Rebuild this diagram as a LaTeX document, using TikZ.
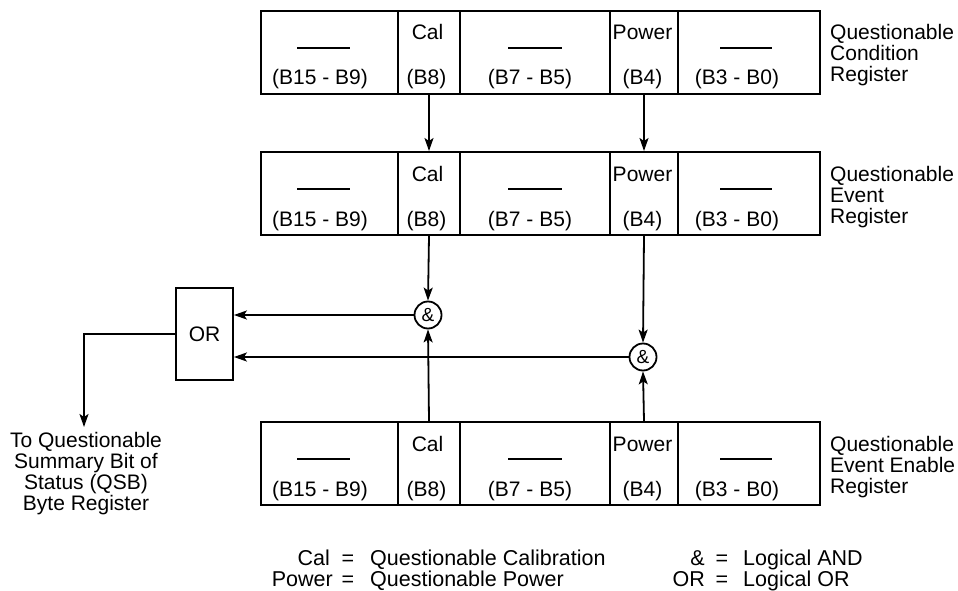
\documentclass[tikz,border=0pt]{standalone}
\usepackage{fontspec}
\setmainfont{Liberation Sans}
\usetikzlibrary{arrows.meta}
\tikzset{
  cell/.style={draw, line width=2pt, minimum height=83pt, inner sep=0pt, anchor=north west},
  txt/.style={font=\fontsize{21}{21}\selectfont, inner sep=0pt},
  lbl/.style={txt, align=left, anchor=base west},
  bar/.style={line width=1.7pt},
  flow/.style={line width=1.8pt, -{Stealth[length=13pt,width=9pt,inset=3pt]}},
  gate/.style={draw, circle, line width=1.8pt, minimum size=27pt, inner sep=0pt, font=\fontsize{19}{19}\selectfont},
  orbox/.style={draw, line width=1.8pt, minimum width=57pt, minimum height=92pt, inner sep=0pt, font=\fontsize{21}{21}\selectfont},
  leg/.style={font=\fontsize{21.5}{21.5}\selectfont, inner sep=0pt}
}
\newcommand\qreg[3]{%
  \node[cell, minimum width=137pt] (#1a) at (260,#2) {};
  \node[cell, minimum width=62pt] (#1b) at (397,#2) {};
  \node[cell, minimum width=150pt] (#1c) at (459,#2) {};
  \node[cell, minimum width=68pt] (#1d) at (609,#2) {};
  \node[cell, minimum width=142pt] (#1e) at (677,#2) {};
  \coordinate (#1la) at (297,#2+38); \coordinate (#1lb) at (350,#2+38);
  \coordinate (#1lc) at (508,#2+38); \coordinate (#1ld) at (562,#2+38);
  \coordinate (#1le) at (720,#2+38); \coordinate (#1lf) at (772,#2+38);
  \draw[bar] (#1la) -- (#1lb);
  \draw[bar] (#1lc) -- (#1ld);
  \draw[bar] (#1le) -- (#1lf);
  \node[txt, anchor=base] (#1ta) at (320,#2+75) {(B15 - B9)};
  \node[txt, anchor=base] (#1tb1) at (427.5,#2+30) {Cal};
  \node[txt, anchor=base] (#1tb2) at (426.5,#2+75) {(B8)};
  \node[txt, anchor=base] (#1tc) at (530,#2+75) {(B7 - B5)};
  \node[txt, anchor=base] (#1td1) at (642.5,#2+30) {Power};
  \node[txt, anchor=base] (#1td2) at (642.5,#2+75) {(B4)};
  \node[txt, anchor=base] (#1te) at (737,#2+75) {(B3 - B0)};
  \node[lbl] (#1lbl) at (830,#2+72) {#3};
}
\begin{document}
\begin{tikzpicture}[x=1pt,y=-1pt]
\useasboundingbox (0,0) rectangle (958,591);
\qreg{top}{10}{Questionable\\Condition\\Register}
\qreg{mid}{151}{Questionable\\Event\\Register}
\qreg{bot}{421}{Questionable\\Event Enable\\Register}

\node[gate] (and1) at (428,315) {\&};
\node[gate] (and2) at (643,357) {\&};
\node[orbox] (or) at (204.5,334) {OR};

\draw[flow] (topb.south) -- (midb.north);
\draw[flow] (topd.south) -- (midd.north);
\draw[flow] (midb.south) -- (and1.north);
\draw[flow] (botb.north) -- (and1.south);
\draw[flow] (midd.south) -- (and2.north);
\draw[flow] (botd.north) -- (and2.south);
\draw[flow] (and1.west) -- (and1.west -| or.east);
\draw[flow] (and2.west) -- (and2.west -| or.east);
\coordinate (qsb) at (84,427);
\draw[flow] (or.west) -| (qsb);

\node[txt, align=center, anchor=base] (qsbtext) at (86,510) {To Questionable\\Summary Bit of\\Status (QSB)\\Byte Register};

\node[leg, anchor=base east] (k1) at (330,565) {Cal};
\node[leg, anchor=base] (e1) at (348,565) {=};
\node[leg, anchor=base west] (v1) at (370,565) {Questionable Calibration};
\node[leg, anchor=base east] (k2) at (333,586) {Power};
\node[leg, anchor=base] (e2) at (348,586) {=};
\node[leg, anchor=base west] (v2) at (370,586) {Questionable Power};

\node[leg, anchor=base east] (k3) at (705,565) {\&};
\node[leg, anchor=base] (e3) at (722,565) {=};
\node[leg, anchor=base west] (v3) at (743,565) {Logical AND};
\node[leg, anchor=base east] (k4) at (705,586) {OR};
\node[leg, anchor=base] (e4) at (722,586) {=};
\node[leg, anchor=base west] (v4) at (743,586) {Logical OR};
\end{tikzpicture}
\end{document}
